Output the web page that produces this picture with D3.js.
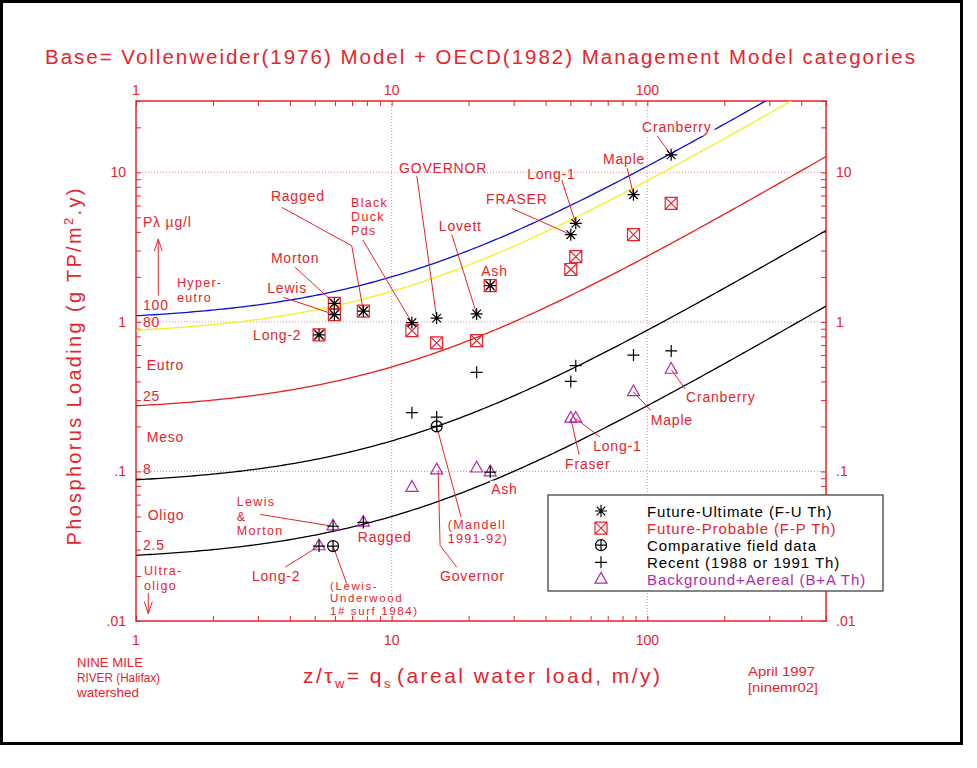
<!DOCTYPE html>
<html><head><meta charset="utf-8">
<script src="https://cdn.jsdelivr.net/npm/d3@7"></script>
<style>body{margin:0;background:#fff}text{font-family:"Liberation Sans",Arial,sans-serif}</style>
</head><body>
<svg id="c" width="977" height="768"></svg>
<script>
// ---------------- DATA ----------------
const xTickValues = [1, 10, 100];
const xTickLabels = ["1", "10", "100"];
const yTickValues = [0.01, 0.1, 1, 10];
const yTickLabels = [".01", ".1", "1", "10"];

// Vollenweider (1976) model: L = P * (qs + 10) ; P in mg/m3 -> g/m3
const modelP = [100, 80, 25, 8, 2.5];          // trophic boundary concentrations (ug/l)
const sedimentationTerm = 10;                    // m/y

const lakes = ["Long-2","Lewis","Morton","Ragged","Black Duck","Governor","Lovett","Ash","Fraser","Long-1","Maple","Cranberry"];
const futureUltimateQs = [5.2, 5.97, 5.97, 7.75, 12.0, 15.0, 21.5, 24.3, 50.2, 52.5, 88.3, 124];
const futureUltimateL  = [0.82, 1.12, 1.33, 1.18, 0.99, 1.06, 1.13, 1.75, 3.83, 4.56, 7.09, 13.1];
const futureProbableQs = [5.2, 5.97, 5.97, 7.75, 12.0, 15.0, 21.5, 24.3, 50.2, 52.5, 88.3, 124];
const futureProbableL  = [0.82, 1.12, 1.33, 1.18, 0.875, 0.724, 0.75, 1.75, 2.24, 2.73, 3.83, 6.2];

const comparativeSites = ["Lewis-Underwood 1984", "Mandell 1991-92"];
const comparativeQs = [5.9, 15.0];
const comparativeL  = [0.0317, 0.20];

const recentLakes = ["Long-2","Lewis & Morton","Ragged","Black Duck","Governor","Lovett","Ash","Fraser","Long-1","Maple","Cranberry"];
const recentQs = [5.2, 5.9, 7.75, 12.0, 15.0, 21.5, 24.3, 50.2, 52.5, 88.3, 124];
const recentL  = [0.0317, 0.043, 0.0456, 0.247, 0.231, 0.46, 0.099, 0.40, 0.51, 0.60, 0.64];

const backgroundQs = [5.2, 5.9, 7.75, 12.0, 15.0, 21.5, 24.3, 50.2, 52.5, 88.3, 124];
const backgroundL  = [0.0317, 0.043, 0.0456, 0.078, 0.102, 0.105, 0.099, 0.226, 0.226, 0.34, 0.48];

const legendLabels = ["Future-Ultimate (F-U Th)","Future-Probable (F-P Th)","Comparative field data","Recent (1988 or 1991 Th)","Background+Aereal (B+A Th)"];

// ---------------- STYLE / LAYOUT ----------------
const RED = "#e8232b", PURPLE = "#b02aa8", BLACK = "#000";
const curveColors = ["#1010d0", "#f4f020", "#ee1c1c", "#000", "#000"];
const svg = d3.select("#c");
const W = 977, H = 768;
const x = d3.scaleLog().domain([1, 500]).range([136, 826]);
const y = d3.scaleLog().domain([0.01, 30]).range([621, 101]);

svg.append("rect").attr("width", W).attr("height", H).attr("fill", "#fff");
svg.append("rect").attr("x", 1.5).attr("y", 1.5).attr("width", 960).attr("height", 742)
  .attr("fill", "none").attr("stroke", "#000").attr("stroke-width", 3);

// title
svg.append("text").attr("x", 45).attr("y", 64).attr("fill", RED).attr("font-size", 20.5)
  .attr("textLength", 870).attr("lengthAdjust", "spacing")
  .text("Base= Vollenweider(1976) Model + OECD(1982) Management Model categories");

const plot = svg.append("g");
svg.append("clipPath").attr("id", "pc").append("rect")
  .attr("x", 136).attr("y", 101).attr("width", 690).attr("height", 520);

// grid (dotted)
const grid = plot.append("g").attr("stroke", "#f08a8a").attr("stroke-width", 1).attr("stroke-dasharray", "1,2");
[10, 100].forEach(v => grid.append("line").attr("x1", x(v)).attr("x2", x(v)).attr("y1", 101).attr("y2", 621));
[0.1, 1, 10].forEach(v => grid.append("line").attr("y1", y(v)).attr("y2", y(v)).attr("x1", 136).attr("x2", 826));

// axes via d3 axis generators (ticks inside)
function minorTicks(domain) {
  const t = [];
  for (let e = Math.floor(Math.log10(domain[0])); e <= Math.ceil(Math.log10(domain[1])); e++)
    for (let m = 1; m < 10; m++) { const v = m * Math.pow(10, e); if (v >= domain[0] - 1e-12 && v <= domain[1] + 1e-9) t.push(v); }
  return t;
}
const xMinor = minorTicks(x.domain()), yMinor = minorTicks(y.domain());
function styleAxis(g) {
  g.select(".domain").remove();
  g.selectAll("line").attr("stroke", RED).attr("stroke-width", 1);
  g.selectAll("text").remove();
}
plot.append("g").attr("transform", "translate(0,101)").call(d3.axisBottom(x).tickValues(xMinor).tickSize(5)).call(styleAxis);
plot.append("g").attr("transform", "translate(0,621)").call(d3.axisTop(x).tickValues(xMinor).tickSize(5)).call(styleAxis);
plot.append("g").attr("transform", "translate(136,0)").call(d3.axisRight(y).tickValues(yMinor).tickSize(5)).call(styleAxis);
plot.append("g").attr("transform", "translate(826,0)").call(d3.axisLeft(y).tickValues(yMinor).tickSize(5)).call(styleAxis);
plot.append("rect").attr("x", 136).attr("y", 101).attr("width", 690).attr("height", 520)
  .attr("fill", "none").attr("stroke", RED).attr("stroke-width", 1.5);

// tick labels
const tl = svg.append("g").attr("fill", RED).attr("font-size", 14);
xTickValues.forEach((v, i) => {
  tl.append("text").attr("x", x(v)).attr("y", 95).attr("text-anchor", "middle").text(xTickLabels[i]);
  tl.append("text").attr("x", x(v)).attr("y", 645).attr("text-anchor", "middle").text(xTickLabels[i]);
});
yTickValues.forEach((v, i) => {
  tl.append("text").attr("x", 126).attr("y", y(v) + 5).attr("text-anchor", "end").text(yTickLabels[i]);
  tl.append("text").attr("x", 836).attr("y", y(v) + 5).attr("text-anchor", "start").text(yTickLabels[i]);
});

// axis titles
const yl = svg.append("text").attr("transform", "translate(81,367) rotate(-90)").attr("text-anchor", "middle")
  .attr("fill", RED).attr("font-size", 20).attr("textLength", 357).attr("lengthAdjust", "spacing");
yl.append("tspan").text("Phosphorus Loading (g TP/m");
yl.append("tspan").attr("font-size", 13).attr("dy", -8).text("2");
yl.append("tspan").attr("dy", 8).text(".y)");

const xl = svg.append("text").attr("x", 303).attr("y", 683).attr("fill", RED).attr("font-size", 21);
xl.append("tspan").text("z/τ");
xl.append("tspan").attr("font-size", 13).attr("dy", 5).text("w");
xl.append("tspan").attr("dy", -5).text("= q");
xl.append("tspan").attr("font-size", 13).attr("dy", 5).text("s");
xl.append("tspan").attr("dy", -5).attr("dx", 4).text("(areal water load, m/y)");
xl.attr("textLength", 357).attr("lengthAdjust", "spacing");

// footnotes
const foot = svg.append("g").attr("fill", RED).attr("font-size", 14);
[["NINE MILE", 667, 66], ["RIVER (Halifax)", 682, 83], ["watershed", 697, 62]].forEach(d =>
  foot.append("text").attr("x", 77).attr("y", d[1]).attr("font-size", 13.5).attr("textLength", d[2]).attr("lengthAdjust", "spacingAndGlyphs").text(d[0]));
[["April 1997", 676, 67], ["[ninemr02]", 692, 70]].forEach(d =>
  foot.append("text").attr("x", 748).attr("y", d[1]).attr("font-size", 13.5).attr("textLength", d[2]).attr("lengthAdjust", "spacingAndGlyphs").text(d[0]));

// model curves
const qsSamples = d3.range(0, 200.5).map(i => Math.pow(10, i * Math.log10(500) / 200));
const line = d3.line().x(d => x(d[0])).y(d => y(d[1]));
const curves = plot.append("g").attr("clip-path", "url(#pc)").attr("fill", "none");
modelP.forEach((P, i) => {
  curves.append("path").attr("d", line(qsSamples.map(q => [q, P / 1000 * (q + sedimentationTerm)])))
    .attr("stroke", curveColors[i]).attr("stroke-width", 1.3);
});

// annotations (anchors in data units); multi-line labels use a slightly smaller font
const annotations = [
  {t:["Cranberry"], x:95.4, y:18.5, lead:[[109.2,17.56],[124,13.1]], knock:true},
  {t:["Maple"], x:67.1, y:11.41, lead:[[83.4,10.68],[88.3,7.09]]},
  {t:["Long-1"], x:33.9, y:9.06, lead:[[46.3,8.88],[52.5,4.56]]},
  {t:["FRASER"], x:23.4, y:6.17, lead:[[29.5,5.74],[50.2,3.83]]},
  {t:["GOVERNOR"], x:10.69, y:9.94, lead:[[12.54,9.49],[15.0,1.06]]},
  {t:["Lovett"], x:15.3, y:4.07, lead:[[17.2,3.83],[21.5,1.13]]},
  {t:["Ash"], x:22.4, y:2.04},
  {t:["Ragged"], x:3.37, y:6.39, lead:[[3.72,5.83],[6.98,3.23],[7.75,1.18]]},
  {t:["Black","Duck","Pds"], x:6.94, y:5.90, lead:[[7.71,3.53],[12.0,0.99]]},
  {t:["Morton"], x:3.37, y:2.46, lead:[[4.19,2.32],[5.97,1.33]]},
  {t:["Lewis"], x:3.26, y:1.553, lead:[[3.77,1.46],[5.97,1.12]]},
  {t:["Long-2"], x:2.87, y:0.762},
  {t:["Lewis","&","Morton"], x:2.48, y:0.0585, lead:[[3.06,0.0516],[5.9,0.043]]},
  {t:["Ragged"], x:7.37, y:0.0337},
  {t:["Long-2"], x:2.84, y:0.0185, lead:[[3.83,0.0229],[5.2,0.0317]]},
  {t:["(Lewis-","Underwood","1# surf 1984)"], x:5.74, y:0.0162, lh:12.6, fs:11.5, ls:1.6, lead:[[6.67,0.01778],[5.9,0.0317]]},
  {t:["(Mandell","1991-92)"], x:16.58, y:0.0412, lead:[[18.7,0.0495],[15.0,0.20]]},
  {t:["Governor"], x:15.47, y:0.0185, lead:[[17.98,0.0229],[15.47,0.032],[15.2,0.102]]},
  {t:["Ash"], x:24.5, y:0.071, knock:true},
  {t:["Fraser"], x:47.7, y:0.1031, lead:[[54.1,0.1293],[50.2,0.226]]},
  {t:["Long-1"], x:61.4, y:0.136, lead:[[65.4,0.1695],[52.5,0.226]]},
  {t:["Maple"], x:103.2, y:0.206, lead:[[103.2,0.2556],[88.3,0.34]]},
  {t:["Cranberry"], x:141.8, y:0.29, lead:[[140.6,0.3567],[124,0.48]]},
  // trophic category annotations
  {t:["Pλ  µg/l"], x:1.065, y:4.28},
  {t:["Hyper-","eutro"], x:1.447, y:1.70, lh:15},
  {t:["100"], x:1.065, y:1.203},
  {t:["80"], x:1.065, y:0.92},
  {t:["Eutro"], x:1.101, y:0.478},
  {t:["25"], x:1.065, y:0.298},
  {t:["Meso"], x:1.101, y:0.157},
  {t:["8"], x:1.065, y:0.0965},
  {t:["Oligo"], x:1.111, y:0.0476},
  {t:["2.5"], x:1.065, y:0.0297},
  {t:["Ultra-","oligo"], x:1.075, y:0.0202, lh:14.5}
];
const arrows = [ {x:1.222, y1:1.498, y2:3.58}, {x:1.117, y1:0.01538, y2:0.0112} ];

const ann = svg.append("g");
const leadG = ann.append("g").attr("stroke", RED).attr("stroke-width", 1).attr("fill", "none");
const knockG = ann.append("g");
const textG = ann.append("g").attr("fill", RED);
annotations.forEach(a => {
  const multi = a.t.length > 1;
  const lh = a.lh || 14.3;
  const fs = a.fs || (multi ? 12.5 : 14);
  const ls = a.ls != null ? a.ls : (multi ? 1.3 : 0.8);
  const t = textG.append("text").attr("x", x(a.x)).attr("y", y(a.y)).attr("font-size", fs).attr("letter-spacing", ls);
  a.t.forEach((s, i) => t.append("tspan").attr("x", x(a.x)).attr("dy", i ? lh : 0).text(s));
  if (a.lead) leadG.append("path").attr("d", line(a.lead));
  if (a.knock) { const b = t.node().getBBox();
    knockG.append("rect").attr("x", b.x - 1).attr("y", b.y).attr("width", b.width + 4).attr("height", b.height).attr("fill", "#fff"); }
});
arrows.forEach(a => {
  const xa = x(a.x), ya = y(a.y1), yb = y(a.y2), dir = yb < ya ? 1 : -1;
  leadG.append("path").attr("d", `M${xa},${ya}L${xa},${yb}M${xa-4},${yb + dir*12}L${xa},${yb}L${xa+4},${yb + dir*12}`);
});

// markers
const sym = {
  star: "M-6,0H6M0,-6V6M-4.3,-4.3L4.3,4.3M-4.3,4.3L4.3,-4.3",
  sqx: "M-6,-6H6V6H-6ZM-6,-6L6,6M-6,6L6,-6",
  cplus: "M-5.5,0A5.5,5.5 0 1,0 5.5,0A5.5,5.5 0 1,0 -5.5,0ZM-5.5,0H5.5M0,-5.5V5.5",
  plus: "M-6,0H6M0,-6V6",
  tri: "M0,-7L6,3.7L-6,3.7Z"
};
const mk = svg.append("g").attr("fill", "none").attr("stroke-width", 1.2);
function drawSeries(qs, L, s, color) {
  mk.append("g").selectAll("path").data(qs.map((q, i) => [q, L[i]])).join("path")
    .attr("transform", d => `translate(${x(d[0])},${y(d[1])})`).attr("d", sym[s]).attr("stroke", color);
}
drawSeries(backgroundQs, backgroundL, "tri", PURPLE);
drawSeries(futureProbableQs, futureProbableL, "sqx", RED);
drawSeries(futureUltimateQs, futureUltimateL, "star", BLACK);
drawSeries(comparativeQs, comparativeL, "cplus", BLACK);
drawSeries(recentQs, recentL, "plus", BLACK);

// legend
const lg = svg.append("g");
lg.append("rect").attr("x", 548).attr("y", 495).attr("width", 335).attr("height", 96)
  .attr("fill", "#fff").attr("stroke", "#444").attr("stroke-width", 1.3);
const legSyms = ["star", "sqx", "cplus", "plus", "tri"];
const legColors = [BLACK, RED, BLACK, BLACK, PURPLE];
legendLabels.forEach((s, i) => {
  const cy = 511 + i * 17.1;
  lg.append("path").attr("transform", `translate(601,${cy})`).attr("d", sym[legSyms[i]])
    .attr("fill", "none").attr("stroke", legColors[i]).attr("stroke-width", 1.2);
  lg.append("text").attr("x", 647).attr("y", cy + 5.5).attr("fill", legColors[i]).attr("font-size", 15)
    .attr("letter-spacing", 0.9).text(s);
});
</script>
</body></html>
